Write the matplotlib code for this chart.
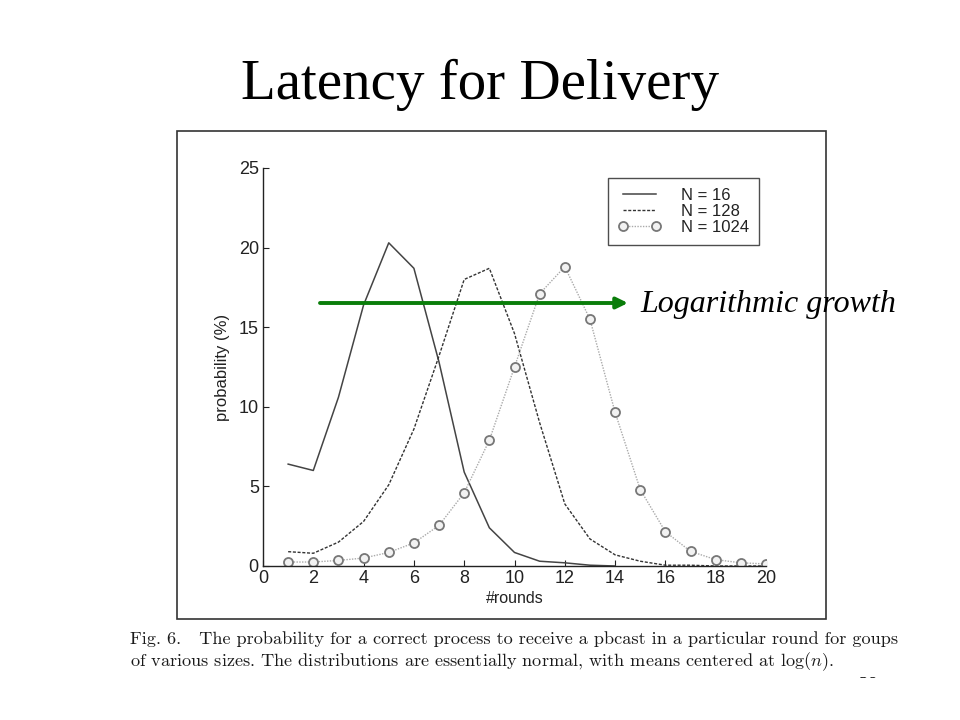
import matplotlib
matplotlib.use("Agg")
import matplotlib.pyplot as plt
from matplotlib.patches import Rectangle, FancyArrowPatch

rounds_16 = [1, 2, 3, 4, 5, 6, 7, 8, 9, 10, 11, 12, 13, 14]
prob_16 = [6.4, 6.0, 10.6, 16.4, 20.3, 18.7, 12.8, 5.9, 2.4, 0.85, 0.3, 0.2, 0.05, 0.0]

rounds_128 = list(range(1, 21))
prob_128 = [0.9, 0.8, 1.5, 2.8, 5.1, 8.6, 13.2, 18.0, 18.7, 14.6, 9.0, 3.9, 1.7, 0.7, 0.3,
            0.05, 0.05, 0.0, 0.0, 0.0]

rounds_1024 = list(range(1, 21))
prob_1024 = [0.25, 0.25, 0.35, 0.5, 0.85, 1.45, 2.55, 4.6, 7.9, 12.5, 17.1, 18.8, 15.5,
             9.65, 4.8, 2.15, 0.92, 0.4, 0.2, 0.13]

labels = ["N = 16", "N = 128", "N = 1024"]
x_ticks = [0, 2, 4, 6, 8, 10, 12, 14, 16, 18, 20]
y_ticks = [0, 5, 10, 15, 20, 25]

W, H = 960, 720
fig = plt.figure(figsize=(9.6, 7.2), dpi=100)
fig.patch.set_facecolor("white")

def fx(px):
    return px / W

def fy(py):
    return 1 - py / H

sans = ["Liberation Sans Narrow", "Liberation Sans", "DejaVu Sans"]

ax = fig.add_axes([fx(263), fy(566), fx(766) - fx(263), fy(168) - fy(566)])
ax.plot(rounds_16, prob_16, color="#444444", lw=1.1, ls="-", label=labels[0])
ax.plot(rounds_128, prob_128, color="#333333", lw=1.0, ls=(0, (2.2, 1.2)), label=labels[1])
ax.plot(rounds_1024, prob_1024, color="#aaaaaa", lw=1.0, ls=(0, (1, 1)),
        marker="o", ms=6.5, mfc="#f2f2f2", mec="#777777", mew=1.3, label=labels[2])

ax.set_xlim(0, 20)
ax.set_ylim(0, 25)
ax.set_xticks(x_ticks)
ax.set_yticks(y_ticks)
for s in ["top", "right"]:
    ax.spines[s].set_visible(False)
for s in ["left", "bottom"]:
    ax.spines[s].set_color("#222222")
    ax.spines[s].set_linewidth(1.0)
ax.tick_params(direction="in", length=4, width=0.8, colors="#222222", labelsize=13, pad=3)
for lab in ax.get_xticklabels() + ax.get_yticklabels():
    lab.set_family(sans)
ax.set_xlabel("#rounds", family=sans, fontsize=11.5, color="#222222", labelpad=3)
ax.set_ylabel("probability (%)", family=sans, fontsize=12, color="#222222", labelpad=6)

leg = ax.legend(loc="upper left", bbox_to_anchor=(fx(608), fy(178)),
                bbox_transform=fig.transFigure, frameon=True, fancybox=False,
                edgecolor="#222222", numpoints=2, handlelength=2.6, handletextpad=1.2,
                labelspacing=0.05, borderpad=0.6, borderaxespad=0,
                prop={"family": sans, "size": 12}, markerfirst=True)
leg.get_frame().set_linewidth(1.0)
for t in leg.get_texts():
    t.set_color("#222222")

# outer border of the embedded figure
fig.add_artist(Rectangle((fx(177), fy(619)), fx(826) - fx(177), fy(131) - fy(619),
                         transform=fig.transFigure, fill=False, ec="#333333", lw=1.2))

# title
fig.text(0.5, fy(99), "Latency for Delivery", ha="center", va="baseline",
         family=["Liberation Serif", "DejaVu Serif"], fontsize=41, color="black")

# green arrow and annotation
fig.add_artist(FancyArrowPatch((fx(320), fy(303)), (fx(628), fy(303)),
                               transform=fig.transFigure,
                               arrowstyle="-|>,head_length=4.5,head_width=2.2",
                               color="#0a7d0a", lw=2.8, mutation_scale=1.5,
                               shrinkA=0, shrinkB=0))
fig.text(fx(640), fy(312), "Logarithmic growth", ha="left", va="baseline",
         family=["Liberation Serif", "DejaVu Serif"], style="italic", fontsize=23, color="black")

# caption
plt.rcParams["mathtext.fontset"] = "cm"
cap_font = ["cmr10", "DejaVu Serif"]
fig.text(fx(130), fy(644),
         "Fig. 6.   The probability for a correct process to receive a pbcast in a particular round for goups",
         ha="left", va="baseline", family=cap_font, fontsize=13.1, color="#1a1a1a")
fig.text(fx(130), fy(666),
         r"of various sizes. The distributions are essentially normal, with means centered at log$(n)$.",
         ha="left", va="baseline", family=cap_font, fontsize=13.1, color="#1a1a1a")

# partially hidden page number
fig.text(fx(868), fy(690), "28", ha="center", va="baseline",
         family=["Liberation Serif"], fontsize=14, color="black")
fig.add_artist(Rectangle((fx(840), 0), fx(60), fy(678), transform=fig.transFigure,
                         fc="white", ec="none", zorder=10))

fig.savefig("out.png", dpi=100)
